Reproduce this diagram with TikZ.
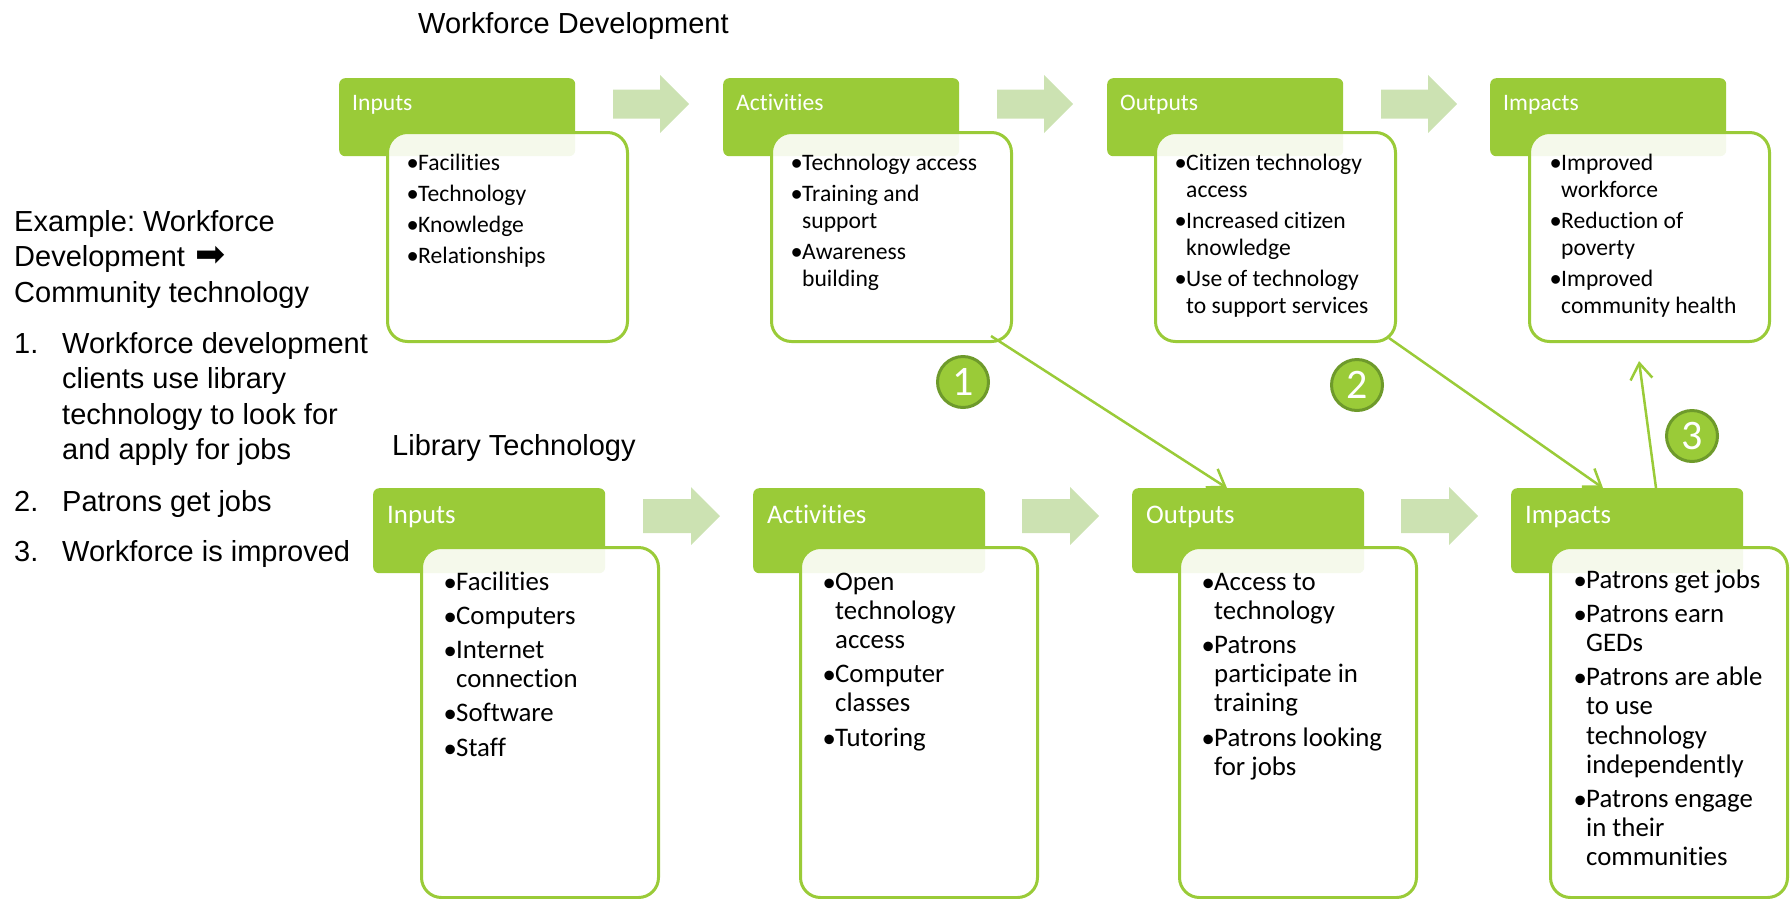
\documentclass[tikz,border=0pt]{standalone}
\usepackage{fontspec}
\setmainfont{Carlito}[Ligatures=CommonOff]
\newfontfamily\arialf{Liberation Sans}
\newfontfamily\djv{DejaVu Sans}
\usetikzlibrary{arrows.meta,calc}
\definecolor{lgreen}{HTML}{9ACB38}
\definecolor{pgreen}{HTML}{CCE2B2}
\definecolor{dgreen}{HTML}{6E9A2B}
\newlength{\bulw}
\def\buls{32}
\def\bulr{-4.5pt}
\newcommand{\bul}{\makebox[\bulw][l]{\raisebox{\bulr}{\arialf\fontsize{\buls}{\buls}\selectfont •}}}
\newcommand{\cnt}{\hspace*{\bulw}}
\newcommand{\barrow}[4]{% x, center y, shaft half height, total length
  \fill[pgreen] (#1,{#2-#3}) -- ({#1+#4-29},{#2-#3}) -- ({#1+#4-29},{#2-29}) -- ({#1+#4},#2)
    -- ({#1+#4-29},{#2+29}) -- ({#1+#4-29},{#2+#3}) -- (#1,{#2+#3}) -- cycle;}
\frenchspacing
\begin{document}
\begin{tikzpicture}[x=1pt,y=-1pt,
  hdrT/.style={fill=lgreen, rounded corners=6pt, minimum width=236pt, minimum height=78pt, anchor=north west, inner sep=0pt},
  hdrB/.style={fill=lgreen, rounded corners=6pt, minimum width=232pt, minimum height=85pt, anchor=north west, inner sep=0pt},
  boxT/.style={draw=lgreen, line width=3pt, fill=white, fill opacity=0.9, rounded corners=20pt, minimum width=240pt, minimum height=209pt, anchor=north west, inner sep=0pt},
  boxB/.style={draw=lgreen, line width=3pt, fill=white, fill opacity=0.9, rounded corners=20pt, minimum width=237pt, minimum height=350pt, anchor=north west, inner sep=0pt},
  htT/.style={anchor=base west, inner sep=0pt, text=white, font=\fontsize{23.6}{27}\selectfont},
  htB/.style={anchor=base west, inner sep=0pt, text=white, font=\fontsize{26.8}{28.6}\selectfont},
  lstT/.style={anchor=base west, inner sep=0pt, font=\fontsize{23.6}{27}\selectfont\setlength{\bulw}{11pt}\def\buls{32}\def\bulr{-4.5pt}},
  lstB/.style={anchor=base west, inner sep=0pt, font=\fontsize{26.8}{29.2}\selectfont\setlength{\bulw}{12pt}\def\buls{35}\def\bulr{-5pt}},
  arl/.style={anchor=base west, inner sep=0pt, font=\arialf\fontsize{29}{35.5}\selectfont},
  num/.style={circle, fill=lgreen, draw=dgreen, line width=3pt, minimum size=51pt, inner sep=0pt, text=white, font=\fontsize{42}{42}\selectfont},
  conn/.style={draw=lgreen, line width=2.5pt, -{Straight Barb[length=16pt,width=22pt,line width=2.5pt]}}
]
\useasboundingbox (0,0) rectangle (1791,898);

% titles
\node[arl] (t1) at (418,33) {Workforce Development};
\node[arl] (t2) at (392,455) {Library Technology};

% left text
\node[arl] (ex) at (14,231) {\begin{tabular}[t]{@{}l@{}}Example: Workforce\\Development\hspace{10pt}{\djv\fontsize{36}{36}\selectfont ➡}\\Community technology\end{tabular}};
\node[arl] (exl) at (14,353) {\begin{tabular}[t]{@{}l@{}l@{}}\makebox[48pt][l]{1.}&Workforce development\\&clients use library\\&technology to look for\\&and apply for jobs\\[16pt]\makebox[48pt][l]{2.}&Patrons get jobs\\[15pt]\makebox[48pt][l]{3.}&Workforce is improved\end{tabular}};

% block arrows
\barrow{613}{104}{14.5}{76}
\barrow{997}{104}{14.5}{76}
\barrow{1381}{104}{14.5}{76}
\barrow{643}{516}{17}{77}
\barrow{1022}{516}{17}{77}
\barrow{1401}{516}{17}{77}

% top headers
\node[hdrT] (th1) at (339,78) {};
\node[hdrT] (th2) at (723,78) {};
\node[hdrT] (th3) at (1107,78) {};
\node[hdrT] (th4) at (1490,78) {};
% bottom headers
\node[hdrB] (bh1) at (373,488) {};
\node[hdrB] (bh2) at (753,488) {};
\node[hdrB] (bh3) at (1132,488) {};
\node[hdrB] (bh4) at (1511,488) {};

% header texts
\node[htT] (th1t) at ($(th1.north west)+(13,32)$) {Inputs};
\node[htT] (th2t) at ($(th2.north west)+(13,32)$) {Activities};
\node[htT] (th3t) at ($(th3.north west)+(13,32)$) {Outputs};
\node[htT] (th4t) at ($(th4.north west)+(13,32)$) {Impacts};
\node[htB] (bh1t) at ($(bh1.north west)+(14,35)$) {Inputs};
\node[htB] (bh2t) at ($(bh2.north west)+(14,35)$) {Activities};
\node[htB] (bh3t) at ($(bh3.north west)+(14,35)$) {Outputs};
\node[htB] (bh4t) at ($(bh4.north west)+(14,35)$) {Impacts};

% content boxes
\node[boxT] (tb1) at (386,131) {};
\node[boxT] (tb2) at (770,131) {};
\node[boxT] (tb3) at (1154,131) {};
\node[boxT] (tb4) at (1528,131) {};
\node[boxB] (bb1) at (420,546) {};
\node[boxB] (bb2) at (799,546) {};
\node[boxB] (bb3) at (1178,546) {};
\node[boxB] (bb4) at (1549,546) {};

% top lists
\node[lstT] (tl1) at (407,170) {\begin{tabular}[t]{@{}l@{}}\bul Facilities\\[4pt]\bul Technology\\[4pt]\bul Knowledge\\[4pt]\bul Relationships\end{tabular}};
\node[lstT] (tl2) at (791,170) {\begin{tabular}[t]{@{}l@{}}\bul Technology access\\[4pt]\bul Training and\\\cnt support\\[4pt]\bul Awareness\\\cnt building\end{tabular}};
\node[lstT] (tl3) at (1175,170) {\begin{tabular}[t]{@{}l@{}}\bul Citizen technology\\\cnt access\\[4pt]\bul Increased citizen\\\cnt knowledge\\[4pt]\bul Use of technology\\\cnt to support services\end{tabular}};
\node[lstT] (tl4) at (1550,170) {\begin{tabular}[t]{@{}l@{}}\bul Improved\\\cnt workforce\\[4pt]\bul Reduction of\\\cnt poverty\\[4pt]\bul Improved\\\cnt community health\end{tabular}};

% bottom lists
\node[lstB] (bl1) at (444,590) {\begin{tabular}[t]{@{}l@{}}\bul Facilities\\[5pt]\bul Computers\\[5pt]\bul Internet\\\cnt connection\\[5pt]\bul Software\\[5pt]\bul Staff\end{tabular}};
\node[lstB] (bl2) at (823,590) {\begin{tabular}[t]{@{}l@{}}\bul Open\\\cnt technology\\\cnt access\\[5pt]\bul Computer\\\cnt classes\\[5pt]\bul Tutoring\end{tabular}};
\node[lstB] (bl3) at (1202,590) {\begin{tabular}[t]{@{}l@{}}\bul Access to\\\cnt technology\\[5pt]\bul Patrons\\\cnt participate in\\\cnt training\\[5pt]\bul Patrons looking\\\cnt for jobs\end{tabular}};
\node[lstB] (bl4) at (1574,588) {\begin{tabular}[t]{@{}l@{}}\bul Patrons get jobs\\[5pt]\bul Patrons earn\\\cnt GEDs\\[5pt]\bul Patrons are able\\\cnt to use\\\cnt technology\\\cnt independently\\[5pt]\bul Patrons engage\\\cnt in their\\\cnt communities\end{tabular}};

% numbered circles
\node[num] (c1) at (963,382) {1};
\node[num] (c2) at (1357,385) {2};
\node[num] (c3) at (1692,436) {3};

% connectors
\coordinate (s1) at ($(tb2.south east)+(-22,-7)$);
\coordinate (e1) at ($(bh3.north west)+(95,0)$);
\coordinate (s2) at ($(tb3.south east)+(-8,-5)$);
\coordinate (e2) at ($(bh4.north west)+(92,0)$);
\coordinate (s3) at ($(bh4.north west)+(145,0)$);
\coordinate (e3) at ($(tb4.south west)+(111,18)$);
\draw[conn] (s1) -- (e1);
\draw[conn] (s2) -- (e2);
\draw[conn] (s3) -- (e3);
\end{tikzpicture}
\end{document}
